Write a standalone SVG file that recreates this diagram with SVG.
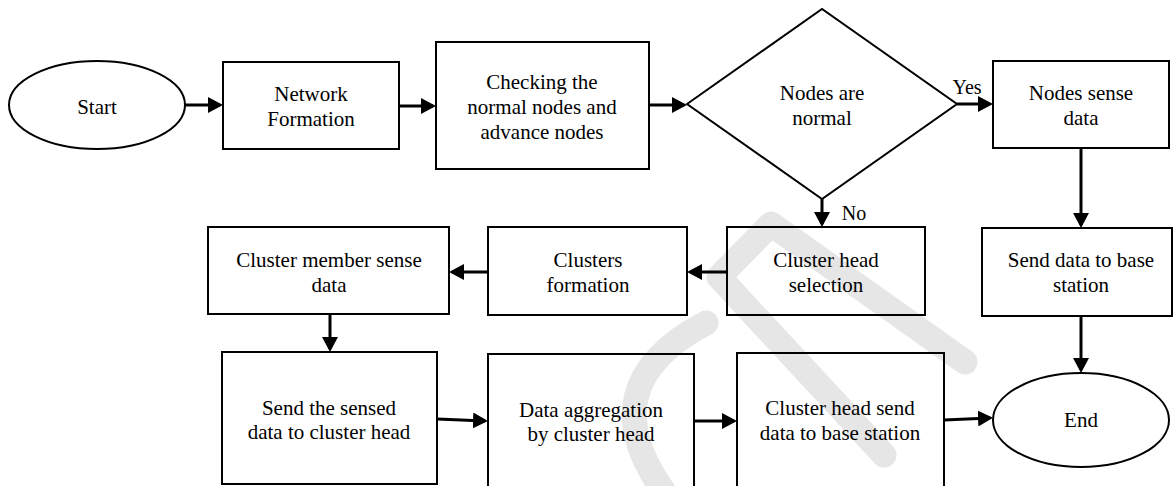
<svg xmlns="http://www.w3.org/2000/svg" width="1173" height="486" viewBox="0 0 1173 486">
<style>
.shape{fill:none;stroke:#000;stroke-width:2}
.t{font-size:21px;fill:#000;text-anchor:middle}
.lbl{font-size:20px;fill:#000;text-anchor:middle}
.c{fill:none;stroke:#000;stroke-width:3;marker-end:url(#ah)}
.wm{fill:none;stroke:#e6e6e6;stroke-width:25;stroke-linecap:round;stroke-linejoin:round}
</style>
<defs>
<marker id="ah" markerUnits="userSpaceOnUse" markerWidth="15" markerHeight="16" refX="12" refY="8" orient="auto">
<path d="M0,0 L15,8 L0,16 Z" fill="#000"/>
</marker>
</defs>
<rect width="1173" height="486" fill="#fff"/>
<path class="wm" d="M706,323 Q588,385 664,492"/>
<path class="wm" d="M965,362 L771,224 L719,277 L884,455"/>
<g font-family="Liberation Serif, Tinos, Times New Roman, DejaVu Serif, serif">
<g id="connectors">
<line class="c" x1="185" y1="105" x2="220" y2="105"/>
<line class="c" x1="399" y1="106" x2="433" y2="106"/>
<line class="c" x1="649" y1="105" x2="684" y2="105"/>
<line class="c" x1="957" y1="104" x2="990" y2="104"/>
<line class="c" x1="822" y1="199" x2="822" y2="224"/>
<line class="c" x1="1081" y1="148" x2="1081" y2="225"/>
<line class="c" x1="1081" y1="316" x2="1081" y2="370"/>
<line class="c" x1="727" y1="272" x2="690" y2="272"/>
<line class="c" x1="488" y1="272" x2="452" y2="272"/>
<line class="c" x1="330" y1="314" x2="330" y2="349"/>
<line class="c" x1="437" y1="419" x2="485" y2="421"/>
<line class="c" x1="694" y1="421" x2="734" y2="421"/>
<line class="c" x1="944" y1="420" x2="990" y2="418"/>
<text class="lbl" x="967" y="94">Yes</text>
<text class="lbl" x="854" y="220">No</text>
</g>
<g id="start">
<ellipse class="shape" cx="97" cy="105" rx="88" ry="44"/>
<text class="t" x="97" y="114">Start</text>
</g>
<g id="network-formation">
<rect class="shape" x="223" y="62" width="176" height="87"/>
<text class="t" x="311" y="101">Network</text>
<text class="t" x="311" y="126">Formation</text>
</g>
<g id="checking">
<rect class="shape" x="436" y="42" width="213" height="127"/>
<text class="t" x="542" y="89">Checking the</text>
<text class="t" x="542" y="114">normal nodes and</text>
<text class="t" x="542" y="139">advance nodes</text>
</g>
<g id="decision">
<polygon class="shape" points="687,104 822,9 957,104 822,199"/>
<text class="t" x="822" y="100">Nodes are</text>
<text class="t" x="822" y="125">normal</text>
</g>
<g id="nodes-sense">
<rect class="shape" x="993" y="61" width="176" height="87"/>
<text class="t" x="1081" y="100">Nodes sense</text>
<text class="t" x="1081" y="125">data</text>
</g>
<g id="send-data-bs">
<rect class="shape" x="982" y="228" width="190" height="88"/>
<text class="t" x="1081" y="267">Send data to base</text>
<text class="t" x="1081" y="292">station</text>
</g>
<g id="end">
<ellipse class="shape" cx="1081" cy="420" rx="88" ry="47"/>
<text class="t" x="1081" y="427">End</text>
</g>
<g id="ch-selection">
<rect class="shape" x="727" y="227" width="198" height="88"/>
<text class="t" x="826" y="267">Cluster head</text>
<text class="t" x="826" y="292">selection</text>
</g>
<g id="clusters-formation">
<rect class="shape" x="488" y="227" width="199" height="88"/>
<text class="t" x="588" y="267">Clusters</text>
<text class="t" x="588" y="292">formation</text>
</g>
<g id="member-sense">
<rect class="shape" x="208" y="227" width="241" height="87"/>
<text class="t" x="329" y="267">Cluster member sense</text>
<text class="t" x="329" y="292">data</text>
</g>
<g id="send-to-ch">
<rect class="shape" x="222" y="352" width="215" height="132"/>
<text class="t" x="329" y="415">Send the sensed</text>
<text class="t" x="329" y="439">data to cluster head</text>
</g>
<g id="aggregation">
<rect class="shape" x="488" y="354" width="206" height="145"/>
<text class="t" x="591" y="417">Data aggregation</text>
<text class="t" x="591" y="441">by cluster head</text>
</g>
<g id="ch-send">
<rect class="shape" x="737" y="353" width="207" height="145"/>
<text class="t" x="840" y="415">Cluster head send</text>
<text class="t" x="840" y="440">data to base station</text>
</g>
</g>
</svg>
